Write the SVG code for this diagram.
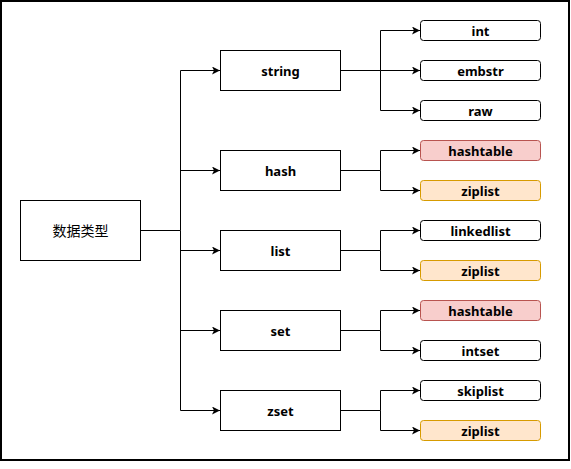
<svg xmlns="http://www.w3.org/2000/svg" width="571" height="469" viewBox="0 0 571 469">
<defs>
<marker id="arr" markerUnits="userSpaceOnUse" markerWidth="10" markerHeight="10" refX="8" refY="4" orient="auto">
<path d="M0,0 L8,4 L0,8 L2,4 z" fill="#000"/>
</marker>
<style>
.frame{fill:#fff;stroke:#000;stroke-width:2}
.box{fill:#fff;stroke:#000;stroke-width:1}
.leaf{fill:#fff;stroke:#000;stroke-width:1}
.red{fill:#f8cecc;stroke:#b85450}
.org{fill:#ffe6cc;stroke:#d79b00}
.t{font-family:"Noto Sans","DejaVu Sans",sans-serif;font-weight:bold;font-size:13px;text-anchor:middle;fill:#000}
.cn{font-family:"Noto Sans CJK SC",sans-serif;font-size:14px;text-anchor:middle;fill:#000}
.c{fill:none;stroke:#000;stroke-width:1}
</style>
</defs>
<rect class="frame" x="1" y="1" width="568" height="459"/>
<g id="connectors">
<path class="c" d="M140.5,230.5 H180.5 V70.5 H220" marker-end="url(#arr)"/>
<path class="c" d="M180.5,170.5 H220" marker-end="url(#arr)"/>
<path class="c" d="M180.5,250.5 H220" marker-end="url(#arr)"/>
<path class="c" d="M180.5,330.5 H220" marker-end="url(#arr)"/>
<path class="c" d="M180.5,230.5 V410.5 H220" marker-end="url(#arr)"/>
<path class="c" d="M340.5,70.5 H380.5 V30.5 H420" marker-end="url(#arr)"/>
<path class="c" d="M380.5,70.5 H420" marker-end="url(#arr)"/>
<path class="c" d="M380.5,70.5 V110.5 H420" marker-end="url(#arr)"/>
<path class="c" d="M340.5,170.5 H380.5 V150.5 H420" marker-end="url(#arr)"/>
<path class="c" d="M380.5,170.5 V190.5 H420" marker-end="url(#arr)"/>
<path class="c" d="M340.5,250.5 H380.5 V230.5 H420" marker-end="url(#arr)"/>
<path class="c" d="M380.5,250.5 V270.5 H420" marker-end="url(#arr)"/>
<path class="c" d="M340.5,330.5 H380.5 V310.5 H420" marker-end="url(#arr)"/>
<path class="c" d="M380.5,330.5 V350.5 H420" marker-end="url(#arr)"/>
<path class="c" d="M340.5,410.5 H380.5 V390.5 H420" marker-end="url(#arr)"/>
<path class="c" d="M380.5,410.5 V430.5 H420" marker-end="url(#arr)"/>
</g>
<g id="root"><rect class="box" x="20.5" y="200.5" width="120" height="60"/><text class="cn" x="80.5" y="236">数据类型</text></g>
<g id="string"><rect class="box" x="220.5" y="50.5" width="120" height="40"/><text class="t" x="280.5" y="76">string</text></g>
<g id="hash"><rect class="box" x="220.5" y="150.5" width="120" height="40"/><text class="t" x="280.5" y="176">hash</text></g>
<g id="list"><rect class="box" x="220.5" y="230.5" width="120" height="40"/><text class="t" x="280.5" y="256">list</text></g>
<g id="set"><rect class="box" x="220.5" y="310.5" width="120" height="40"/><text class="t" x="280.5" y="336">set</text></g>
<g id="zset"><rect class="box" x="220.5" y="390.5" width="120" height="40"/><text class="t" x="280.5" y="416">zset</text></g>
<g id="int"><rect class="leaf" x="420.5" y="20.5" width="120" height="20" rx="3"/><text class="t" x="480.5" y="36">int</text></g>
<g id="embstr"><rect class="leaf" x="420.5" y="60.5" width="120" height="20" rx="3"/><text class="t" x="480.5" y="76">embstr</text></g>
<g id="raw"><rect class="leaf" x="420.5" y="100.5" width="120" height="20" rx="3"/><text class="t" x="480.5" y="116">raw</text></g>
<g id="hashtable1"><rect class="leaf red" x="420.5" y="140.5" width="120" height="20" rx="3"/><text class="t" x="480.5" y="156">hashtable</text></g>
<g id="ziplist1"><rect class="leaf org" x="420.5" y="180.5" width="120" height="20" rx="3"/><text class="t" x="480.5" y="196">ziplist</text></g>
<g id="linkedlist"><rect class="leaf" x="420.5" y="220.5" width="120" height="20" rx="3"/><text class="t" x="480.5" y="236">linkedlist</text></g>
<g id="ziplist2"><rect class="leaf org" x="420.5" y="260.5" width="120" height="20" rx="3"/><text class="t" x="480.5" y="276">ziplist</text></g>
<g id="hashtable2"><rect class="leaf red" x="420.5" y="300.5" width="120" height="20" rx="3"/><text class="t" x="480.5" y="316">hashtable</text></g>
<g id="intset"><rect class="leaf" x="420.5" y="340.5" width="120" height="20" rx="3"/><text class="t" x="480.5" y="356">intset</text></g>
<g id="skiplist"><rect class="leaf" x="420.5" y="380.5" width="120" height="20" rx="3"/><text class="t" x="480.5" y="396">skiplist</text></g>
<g id="ziplist3"><rect class="leaf org" x="420.5" y="420.5" width="120" height="20" rx="3"/><text class="t" x="480.5" y="436">ziplist</text></g>
</svg>
